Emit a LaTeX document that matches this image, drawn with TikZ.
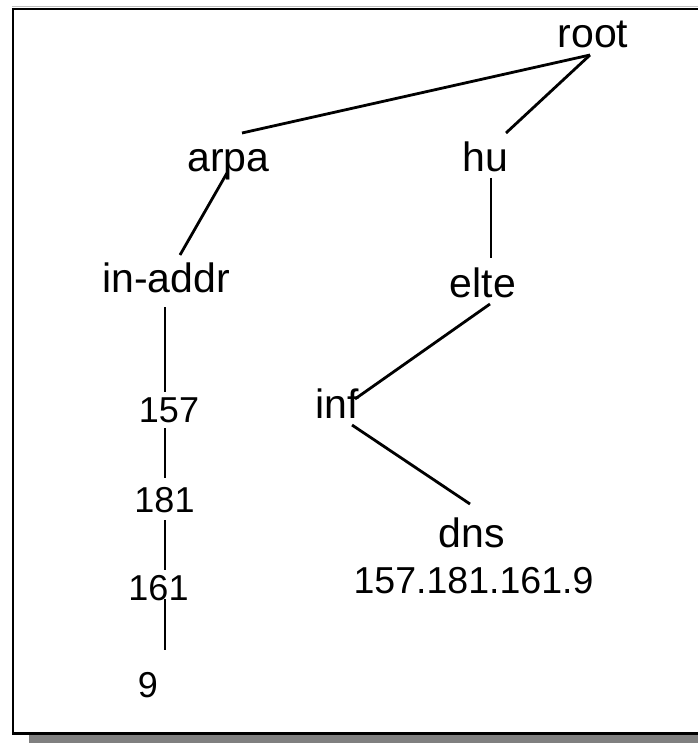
\documentclass[tikz,border=0pt]{standalone}
\usepackage{fontspec}
\setmainfont{Liberation Sans}
\begin{document}
\begin{tikzpicture}[x=1pt,y=-1pt,
  big/.style={anchor=base,inner sep=0pt,font=\fontsize{41}{41}\selectfont},
  small/.style={anchor=base,inner sep=0pt,font=\fontsize{36}{36}\selectfont},
  ipstyle/.style={anchor=base,inner sep=0pt,font=\fontsize{37.5}{37.5}\selectfont},
  edge/.style={line width=2.8pt}]
\useasboundingbox (0,0) rectangle (697,743);
% shadow and frame
\fill[black!50] (29,25) rectangle (730,760);
\fill[white] (13,9) rectangle (720,733.5);
\draw[black!25, line width=1pt] (12,7) -- (720,7);
\draw[line width=2.8pt] (13,9) rectangle (720,733.5);
% nodes
\node[big] (root) at (593,48) {root};
\node[big] (arpa) at (228.5,172) {arpa};
\node[big] (hu) at (485,172) {hu};
\node[big] (inaddr) at (166,292) {in-addr};
\node[big] (elte) at (483,297) {elte};
\node[big] (inf) at (337.5,418) {inf};
\node[big] (dns) at (472,547) {dns};
\node[ipstyle] (ip) at (473.5,593) {157.181.161.9};
\node[small] (n157) at (169,422) {157};
\node[small] (n181) at (164.5,512) {181};
\node[small] (n161) at (158.5,600) {161};
\node[small] (n9) at (148,697) {9};
% connector end points
\coordinate (rootB) at (590,55);
\coordinate (arpaT) at (242,133);
\coordinate (huT) at (506,133);
\coordinate (arpaB) at (227,173);
\coordinate (inaddrT) at (180,255);
\coordinate (huB) at (491,178);
\coordinate (elteT) at (491,258);
\coordinate (elteB) at (490,304);
\coordinate (infT) at (355,399);
\coordinate (infB) at (352,425);
\coordinate (dnsT) at (470,504);
\coordinate (inaddrB) at (165,307);
\coordinate (n157T) at (165,392);
\coordinate (n157B) at (165,428);
\coordinate (n181T) at (165,478);
\coordinate (n181B) at (165,520);
\coordinate (n161T) at (165,570);
\coordinate (n161B) at (165,599);
\coordinate (n9T) at (165,650);
% connectors
\draw[edge] (rootB) -- (arpaT);
\draw[edge] (rootB) -- (huT);
\draw[edge] (arpaB) -- (inaddrT);
\draw[edge] (huB) -- (elteT);
\draw[edge] (elteB) -- (infT);
\draw[edge] (infB) -- (dnsT);
\draw[edge] (inaddrB) -- (n157T);
\draw[edge] (n157B) -- (n181T);
\draw[edge] (n181B) -- (n161T);
\draw[edge] (n161B) -- (n9T);
\end{tikzpicture}
\end{document}
